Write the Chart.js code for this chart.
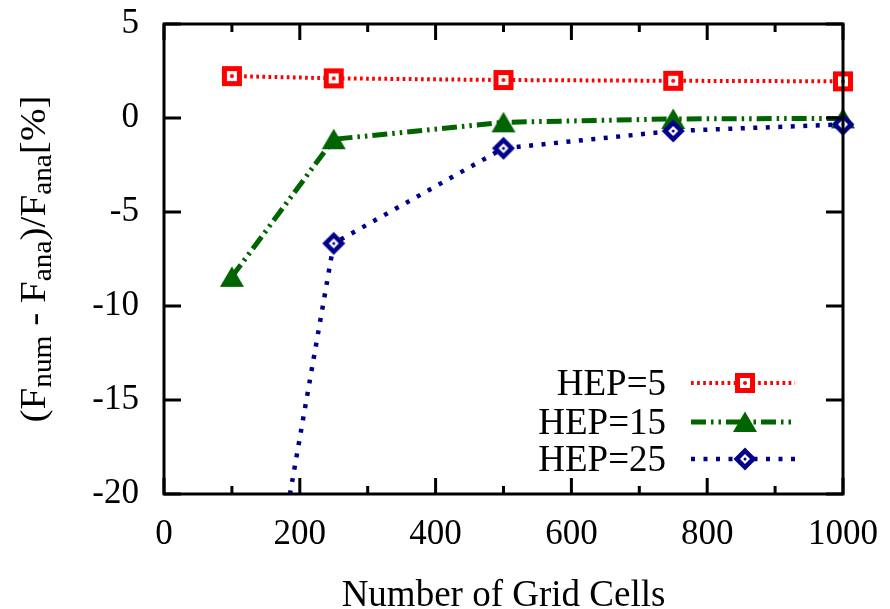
<!DOCTYPE html>
<html>
<head>
<meta charset="utf-8">
<script src="https://cdn.jsdelivr.net/npm/chart.js@4.4.1/dist/chart.umd.min.js"></script>
<style>
  html, body { margin: 0; padding: 0; background: #fff; }
  #wrap { width: 890px; height: 609px; }
</style>
</head>
<body>
<div id="wrap"><canvas id="chart" width="890" height="609"></canvas></div>
<script>
// data
const gridCells = [100, 250, 500, 750, 1000];
const hep5  = [2.23, 2.11, 2.02, 1.98, 1.95];
const hep15 = [-8.45, -1.13, -0.23, -0.05, -0.02];
const hep25 = [-37.7, -6.67, -1.61, -0.69, -0.34];
const seriesNames = ["HEP=5", "HEP=15", "HEP=25"];

const xTicks = [0, 200, 400, 600, 800, 1000];
const xMinorTicks = [100, 300, 500, 700, 900];
const yTicks = [-20, -15, -10, -5, 0, 5];

const FONT = "Liberation Serif";
const red = "#ff0000", green = "#006400", blue = "#00008b";

// markers as small canvases
const makeMarker = (w, h, draw) => {
  const c = document.createElement("canvas");
  c.width = w; c.height = h;
  draw(c.getContext("2d"), w / 2, h / 2);
  return c;
};
const squareMark = makeMarker(22, 22, (ctx, cx, cy) => {
  ctx.fillStyle = red; ctx.fillRect(cx - 10, cy - 10, 20, 20);
  ctx.fillStyle = "#fff"; ctx.fillRect(cx - 5, cy - 5, 10, 10);
  ctx.fillStyle = red; ctx.beginPath(); ctx.arc(cx, cy, 2, 0, Math.PI * 2); ctx.fill();
});
const triMark = makeMarker(26, 24, (ctx, cx, cy) => {
  ctx.fillStyle = green;
  ctx.beginPath();
  ctx.moveTo(cx, cy - 10.5); ctx.lineTo(cx + 12, cy + 10); ctx.lineTo(cx - 12, cy + 10);
  ctx.closePath(); ctx.fill();
});
const diaMark = makeMarker(26, 26, (ctx, cx, cy) => {
  const d = (r, col) => {
    ctx.fillStyle = col; ctx.beginPath();
    ctx.moveTo(cx, cy - r); ctx.lineTo(cx + r, cy); ctx.lineTo(cx, cy + r); ctx.lineTo(cx - r, cy);
    ctx.closePath(); ctx.fill();
  };
  d(11.5, blue); d(5, "#fff");
  ctx.fillStyle = blue; ctx.beginPath(); ctx.arc(cx, cy, 1.5, 0, Math.PI * 2); ctx.fill();
});

const mkSet = (label, vals, color, width, dash, marker, order) => ({
  label: label,
  data: gridCells.map((x, i) => ({ x: x, y: vals[i] })),
  borderColor: color,
  backgroundColor: color,
  borderWidth: width,
  borderDash: dash,
  pointStyle: marker,
  pointRadius: 11,
  pointHoverRadius: 11,
  tension: 0,
  fill: false,
  order: order,
  clip: { left: 20, right: 20, top: 20, bottom: 0 }
});

const datasets = [
  mkSet(seriesNames[0], hep5, red, 4, [2.7, 3.4], squareMark, 3),
  mkSet(seriesNames[1], hep15, green, 5, [15, 5, 2.5, 5, 2.5, 5], triMark, 2),
  mkSet(seriesNames[2], hep25, blue, 4.5, [4, 8.5], diaMark, 1)
];

// frame, inward ticks, y title, key
const decor = {
  id: "decor",
  afterDatasetsDraw(chart) {
    const { ctx, chartArea: a, scales: { x, y } } = chart;
    ctx.save();
    ctx.strokeStyle = "#000";
    ctx.lineWidth = 3;
    ctx.beginPath();
    const tx = (v, len) => {
      const px = x.getPixelForValue(v);
      ctx.moveTo(px, a.bottom); ctx.lineTo(px, a.bottom - len);
      ctx.moveTo(px, a.top); ctx.lineTo(px, a.top + len);
    };
    xTicks.forEach(v => tx(v, 16));
    xMinorTicks.forEach(v => tx(v, 8));
    yTicks.forEach(v => {
      const py = y.getPixelForValue(v);
      ctx.moveTo(a.left, py); ctx.lineTo(a.left + 17, py);
      ctx.moveTo(a.right, py); ctx.lineTo(a.right - 17, py);
    });
    ctx.stroke();
    ctx.strokeRect(a.left, a.top, a.right - a.left, a.bottom - a.top);

    // key
    const rows = [383, 422, 459];
    const marks = [squareMark, triMark, diaMark];
    ctx.font = "37px '" + FONT + "'";
    ctx.fillStyle = "#000";
    ctx.textAlign = "right";
    ctx.textBaseline = "middle";
    chart.data.datasets.forEach((ds, i) => {
      const ry = rows[i];
      ctx.fillText(ds.label, 666, ry + 2);
      ctx.save();
      ctx.strokeStyle = ds.borderColor;
      ctx.lineWidth = ds.borderWidth;
      ctx.setLineDash(ds.borderDash);
      ctx.beginPath(); ctx.moveTo(691, ry); ctx.lineTo(795, ry); ctx.stroke();
      ctx.restore();
      ctx.drawImage(marks[i], 745 - marks[i].width / 2, ry - marks[i].height / 2);
    });

    // y axis title with subscripts
    const parts = [["(F", 0], ["num", 1], [" - F", 0], ["ana", 1], [")/F", 0], ["ana", 1], ["[%]", 0]];
    const mainF = "36px '" + FONT + "'", subF = "27px '" + FONT + "'";
    let total = 0;
    parts.forEach(p => { ctx.font = p[1] ? subF : mainF; total += ctx.measureText(p[0]).width; });
    const len = 327;
    const cy = (a.top + a.bottom) / 2;
    ctx.translate(45, cy);
    ctx.rotate(-Math.PI / 2);
    ctx.scale(len / total, 1);
    ctx.textAlign = "left";
    ctx.textBaseline = "alphabetic";
    let px = -total / 2;
    parts.forEach(p => {
      ctx.font = p[1] ? subF : mainF;
      ctx.fillText(p[0], px, p[1] ? 6 : 0);
      px += ctx.measureText(p[0]).width;
    });
    ctx.restore();
  }
};

new Chart(document.getElementById("chart"), {
  type: "line",
  data: { datasets: datasets },
  plugins: [decor],
  options: {
    responsive: false,
    animation: false,
    events: [],
    layout: { padding: { left: 0, right: 47, top: 24, bottom: 0 } },
    plugins: { legend: { display: false }, tooltip: { enabled: false } },
    scales: {
      x: {
        type: "linear", min: 0, max: 1000,
        afterBuildTicks: s => { s.ticks = xTicks.map(v => ({ value: v })); },
        afterFit: s => { s.height = 115; s.paddingLeft = 0; s.paddingRight = 0; },
        grid: { display: false, drawTicks: false },
        border: { display: false },
        ticks: { font: { family: FONT, size: 35 }, color: "#000", padding: 20, maxRotation: 0, autoSkip: false,
          callback: v => String(v) },
        title: { display: true, text: "Number of Grid Cells", font: { family: FONT, size: 37 }, color: "#000", padding: { top: 0, bottom: -9 } }
      },
      y: {
        type: "linear", min: -20, max: 5,
        afterBuildTicks: s => { s.ticks = yTicks.map(v => ({ value: v })); },
        afterFit: s => { s.width = 164; s.paddingTop = 0; s.paddingBottom = 0; },
        grid: { display: false, drawTicks: false },
        border: { display: false },
        ticks: { font: { family: FONT, size: 35 }, color: "#000", padding: 25, autoSkip: false,
          callback: v => String(v) }
      }
    }
  }
});
</script>
</body>
</html>
